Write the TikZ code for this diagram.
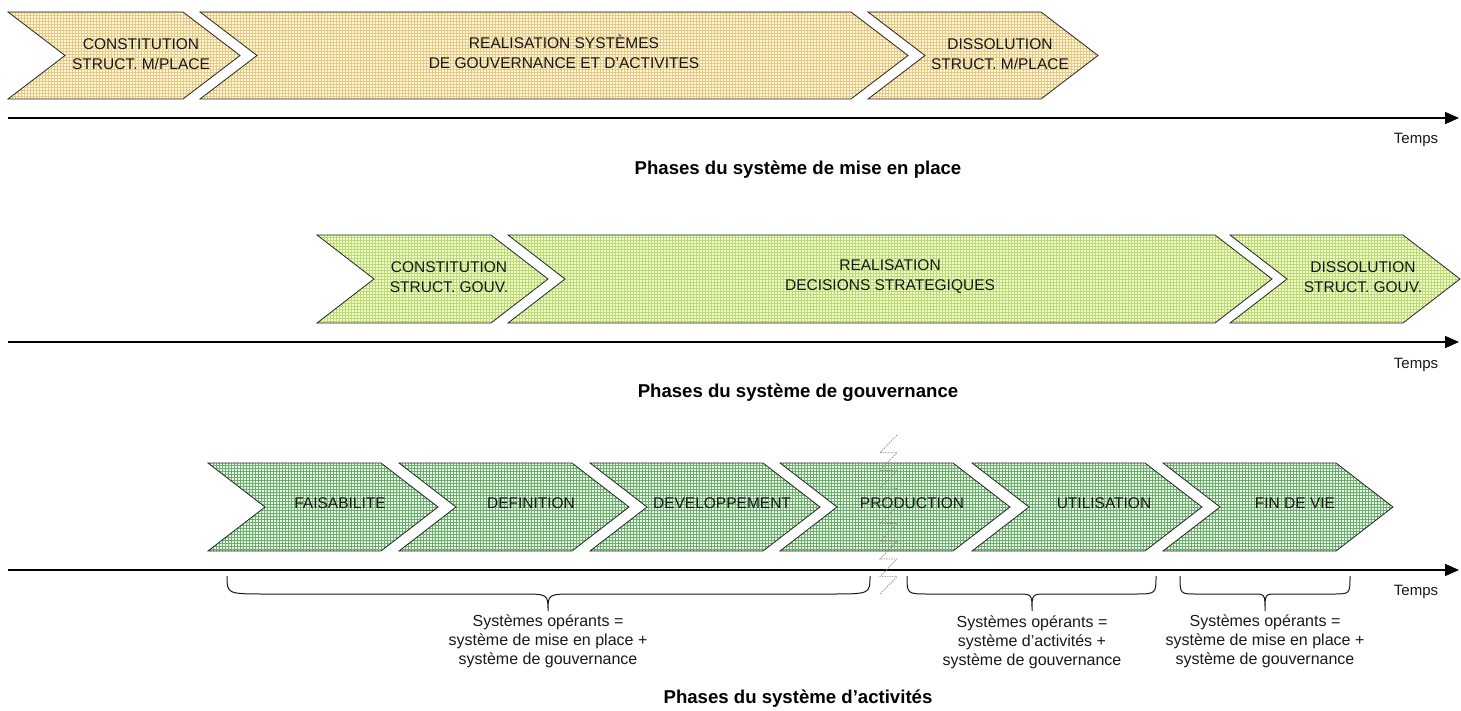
\documentclass[tikz,border=0pt]{standalone}
\usepackage{fontspec}
\setmainfont{Liberation Sans}
\usetikzlibrary{patterns,arrows.meta}
\definecolor{mpbase}{HTML}{FCF6E2}
\definecolor{mpline}{HTML}{E8C97E}
\definecolor{gvbase}{HTML}{F0F9D8}
\definecolor{gvline}{HTML}{BCDC6C}
\definecolor{acbase}{HTML}{E8F4E8}
\definecolor{acline}{HTML}{6CAE6C}
\tikzset{
  chevmp/.style={draw=black!85, line width=0.8pt, preaction={fill=mpbase}, pattern=grid, pattern color=mpline},
  chevgv/.style={draw=black!85, line width=0.8pt, preaction={fill=gvbase}, pattern=grid, pattern color=gvline},
  chevac/.style={draw=black!85, line width=0.8pt, preaction={fill=acbase}, pattern=grid, pattern color=acline},
  chevtext/.style={font=\fontsize{15.5}{20}\selectfont, align=center, inner sep=0pt, text=black!90},
  bracetext/.style={font=\fontsize{16}{19}\selectfont, align=center, inner sep=0pt, text=black!90},
  timelabel/.style={font=\fontsize{15}{18}\selectfont, inner sep=0pt, text=black!90},
  phasetitle/.style={font=\bfseries\fontsize{18.6}{22}\selectfont, inner sep=0pt},
  timeaxis/.style={line width=1.5pt, -{Triangle[length=14pt,width=12pt]}},
  bracepath/.style={line width=1pt, draw=black!90},
  breakline/.style={draw=black!45, line width=0.7pt, dash pattern=on 1.5pt off 1pt},
}
% #1 style, #2 left x, #3 tip x, #4 top y, #5 bottom y
\newcommand\drawchev[5]{%
  \path[#1] (#2,#4) -- ({#3-57},#4) -- (#3,{(#4+#5)/2}) -- ({#3-57},#5) -- (#2,#5) -- ({#2+57},{(#4+#5)/2}) -- cycle;}
% #1 x1, #2 xm, #3 x2, #4 end radius, #5 middle radius
\newcommand\drawbrace[5]{%
  \draw[bracepath] (#1,576) .. controls (#1,594) .. ({#1+#4},594) -- ({#2-#5},594)
    .. controls (#2,594) .. (#2,611) .. controls (#2,594) .. ({#2+#5},594)
    -- ({#3-#4},594) .. controls (#3,594) .. (#3,576);}
\begin{document}
\begin{tikzpicture}[x=1pt,y=-1pt]
\useasboundingbox (0,0) rectangle (1461,711);

% ---------- Row 1 : mise en place ----------
\drawchev{chevmp}{8}{240}{12}{99}
\drawchev{chevmp}{200}{908}{12}{99}
\drawchev{chevmp}{868}{1098}{12}{99}
\node[chevtext] (mp1) at (141,54) {CONSTITUTION\\STRUCT. M/PLACE};
\node[chevtext] (mp2) at (564,52) {REALISATION SYSTÈMES\\DE GOUVERNANCE ET D'ACTIVITES};
\node[chevtext] (mp3) at (1000,54) {DISSOLUTION\\STRUCT. M/PLACE};
\coordinate (ax1s) at (8,118);
\coordinate (ax1e) at (1459,118);
\draw[timeaxis] (ax1s) -- (ax1e);
\node[timelabel] (t1) at (1416,140) {Temps};
\node[phasetitle] (p1) at (798,170) {Phases du système de mise en place};

% ---------- Row 2 : gouvernance ----------
\drawchev{chevgv}{317}{548}{235}{323}
\drawchev{chevgv}{508}{1272}{235}{323}
\drawchev{chevgv}{1230}{1460}{235}{323}
\node[chevtext] (gv1) at (449,277) {CONSTITUTION\\STRUCT. GOUV.};
\node[chevtext] (gv2) at (890,277) {REALISATION\\DECISIONS STRATEGIQUES};
\node[chevtext] (gv3) at (1363,277) {DISSOLUTION\\STRUCT. GOUV.};
\coordinate (ax2s) at (8,342);
\coordinate (ax2e) at (1459,342);
\draw[timeaxis] (ax2s) -- (ax2e);
\node[timelabel] (t2) at (1416,365) {Temps};
\node[phasetitle] (p2) at (798,393) {Phases du système de gouvernance};

% ---------- Row 3 : activites ----------
\foreach \l in {208,399,590,780,972,1163} {
  \drawchev{chevac}{\l}{\l+230}{463}{551}
}
\node[chevtext] (ac1) at (340,503) {FAISABILITE};
\node[chevtext] (ac2) at (531,503) {DEFINITION};
\node[chevtext] (ac3) at (722,503) {DEVELOPPEMENT};
\node[chevtext] (ac4) at (912,503) {PRODUCTION};
\node[chevtext] (ac5) at (1104,503) {UTILISATION};
\node[chevtext] (ac6) at (1295,503) {FIN DE VIE};
\coordinate (ax3s) at (8,570);
\coordinate (ax3e) at (1459,570);
\draw[timeaxis] (ax3s) -- (ax3e);
\node[timelabel] (t3) at (1416,592) {Temps};

% break mark
\draw[breakline] (897,435) \foreach \i in {1,...,8} { -- (880,{435+17.7*\i}) -- (897,{435+17.7*\i}) } -- (880,594);

% braces
\drawbrace{227}{548}{870}{40}{28}
\drawbrace{907}{1032}{1156}{22}{15}
\drawbrace{1180}{1265}{1350}{17}{12}
\node[bracetext] (b1) at (548,641) {Systèmes opérants =\\système de mise en place +\\système de gouvernance};
\node[bracetext] (b2) at (1032,642) {Systèmes opérants =\\système d'activités +\\système de gouvernance};
\node[bracetext] (b3) at (1265,641) {Systèmes opérants =\\système de mise en place +\\système de gouvernance};

\node[phasetitle] (p3) at (798,699) {Phases du système d'activités};
\end{tikzpicture}
\end{document}
